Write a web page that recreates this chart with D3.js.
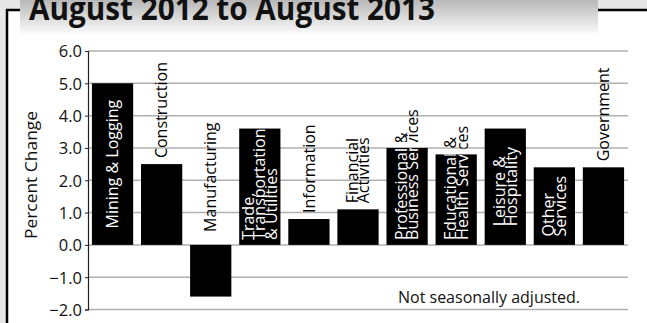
<!DOCTYPE html>
<html>
<head>
<meta charset="utf-8">
<script src="https://cdn.jsdelivr.net/npm/d3@7"></script>
<style>
  html, body { margin: 0; padding: 0; background: #e6e6e6; }
  svg { display: block; }
  text { font-family: "Open Sans", "DejaVu Sans", sans-serif; }
</style>
</head>
<body>
<svg id="chart" width="647" height="323"></svg>
<script>
// Over-the-year percent change in employment by industry
const categories = [
  "Mining & Logging", "Construction", "Manufacturing",
  "Trade, Transportation & Utilities", "Information", "Financial Activities",
  "Professional & Business Services", "Educational & Health Services",
  "Leisure & Hospitality", "Other Services", "Government"
];
const values = [5.0, 2.5, -1.6, 3.6, 0.8, 1.1, 3.0, 2.8, 3.6, 2.4, 2.4];
const labelLines = [
  ["Mining & Logging"], ["Construction"], ["Manufacturing"],
  ["Trade,", "Transportation", "& Utilities"], ["Information"], ["Financial", "Activities"],
  ["Professional &", "Business Services"], ["Educational &", "Health Services"],
  ["Leisure &", "Hospitality"], ["Other", "Services"], ["Government"]
];
// where each industry name sits: inside the bar (white) or above it (black)
const labelPlacement = [
  "inside", "above", "above", "inside", "above", "above",
  "inside", "inside", "inside", "inside", "above"
];
const yTicks = [-2, -1, 0, 1, 2, 3, 4, 5, 6];
const titleText = "August 2012 to August 2013";
const yAxisTitle = "Percent Change";
const noteText = "Not seasonally adjusted.";

const W = 647, H = 323;
const svg = d3.select("#chart");

// page frame
svg.append("rect").attr("width", W).attr("height", H).attr("fill", "#e6e6e6");
svg.append("rect").attr("x", 8).attr("y", 10).attr("width", W - 8).attr("height", H - 10).attr("fill", "#fff");
const frame = svg.append("g").attr("stroke", "#000").attr("stroke-width", 2.5);
frame.append("line").attr("x1", 7).attr("x2", 7).attr("y1", 9).attr("y2", H);
frame.append("line").attr("x1", 6).attr("x2", 21).attr("y1", 10).attr("y2", 10);
frame.append("line").attr("x1", 597).attr("x2", W).attr("y1", 10).attr("y2", 10);

// title banner
const defs = svg.append("defs");
const grad = defs.append("linearGradient").attr("id", "bannerGrad")
  .attr("x1", 0).attr("y1", 0).attr("x2", 0).attr("y2", 1);
grad.append("stop").attr("offset", "0%").attr("stop-color", "#b8b8b8");
grad.append("stop").attr("offset", "100%").attr("stop-color", "#fbfbfb");
svg.append("rect").attr("x", 20).attr("y", 0).attr("width", 578).attr("height", 34)
  .attr("fill", "url(#bannerGrad)");
svg.append("text").attr("x", 29).attr("y", 20)
  .attr("font-size", 33).attr("font-weight", 700).attr("fill", "#111")
  .attr("textLength", 406).attr("lengthAdjust", "spacingAndGlyphs")
  .text(titleText);

// scales
const x = d3.scaleBand().domain(categories).range([88, 628]).paddingInner(0.16).paddingOuter(0.08);
const y = d3.scaleLinear().domain([-2, 6]).range([309.5, 51]);

// gridlines
svg.append("g").selectAll("line").data(yTicks).join("line")
  .attr("x1", 88).attr("x2", 628)
  .attr("y1", d => y(d)).attr("y2", d => y(d))
  .attr("stroke", "#b0b0b0").attr("stroke-width", 1.5);

// y axis
const yAxis = d3.axisLeft(y).tickValues(yTicks).tickFormat(d3.format(".1f")).tickSize(3).tickPadding(3);
const ya = svg.append("g").attr("transform", "translate(88,0)").call(yAxis);
ya.select(".domain").attr("stroke", "#222").attr("stroke-width", 1.2);
ya.selectAll(".tick line").attr("stroke", "#222");
ya.selectAll(".tick text").attr("font-size", 16.5).attr("fill", "#111")
  .attr("font-family", "'Open Sans', sans-serif").attr("dy", "0.36em");

svg.append("text")
  .attr("transform", `translate(37,175) rotate(-90)`)
  .attr("text-anchor", "middle").attr("font-size", 16.5).attr("fill", "#111")
  .attr("textLength", 128).attr("lengthAdjust", "spacingAndGlyphs")
  .text(yAxisTitle);

// bars
const barTop = (v) => y(Math.max(0, v));
const barH = (v) => Math.abs(y(v) - y(0));
svg.append("g").selectAll("rect").data(categories).join("rect")
  .attr("x", d => x(d))
  .attr("y", (d, i) => barTop(values[i]))
  .attr("width", x.bandwidth())
  .attr("height", (d, i) => barH(values[i]))
  .attr("fill", "#000");

// industry names, rotated to read bottom-up
const fs = 16, lh = 11.5;
const labels = svg.append("g");

// longest line of a label, measured off-screen
const measurer = svg.append("text").attr("font-size", fs).attr("visibility", "hidden");
function labelLength(i) {
  return d3.max(labelLines[i], ln => { measurer.text(ln); return measurer.node().getComputedTextLength(); });
}

function labelStart(i) {
  const v = values[i];
  const zero = y(0);
  if (labelPlacement[i] !== "inside") return v < 0 ? zero - 13 : y(v) - 6;
  // centre the name in the bar, but never let it run below the baseline
  const len = labelLength(i);
  const centred = (barTop(v) + zero) / 2 + len / 2;
  return Math.min(centred, zero - 5);
}

function drawLabel(i, color, clipId) {
  const lines = labelLines[i];
  const n = lines.length;
  const cx = x(categories[i]) + x.bandwidth() / 2;
  const t = labels.append("g").attr("clip-path", clipId ? `url(#${clipId})` : null)
    .append("text")
    .attr("transform", `translate(${cx},${labelStart(i)}) rotate(-90)`)
    .attr("font-size", fs).attr("fill", color);
  lines.forEach((ln, k) => {
    t.append("tspan").attr("x", 0)
      .attr("y", (k - (n - 1) / 2) * lh)
      .attr("dy", "0.35em")
      .text(ln);
  });
}

categories.forEach((c, i) => {
  const v = values[i];
  if (labelPlacement[i] === "inside") {
    const inId = "clipIn" + i, outId = "clipOut" + i;
    defs.append("clipPath").attr("id", inId).append("rect")
      .attr("x", x(c)).attr("y", barTop(v)).attr("width", x.bandwidth()).attr("height", barH(v));
    defs.append("clipPath").attr("id", outId).append("rect")
      .attr("x", x(c) - 10).attr("y", 0).attr("width", x.bandwidth() + 20).attr("height", Math.max(0, barTop(v) - 6));
    drawLabel(i, "#fff", inId);
    drawLabel(i, "#000", outId);
  } else {
    drawLabel(i, "#000", null);
  }
});
measurer.remove();

// footnote
svg.append("text").attr("x", 398).attr("y", 303)
  .attr("font-size", 16).attr("fill", "#111")
  .attr("textLength", 182).attr("lengthAdjust", "spacingAndGlyphs")
  .text(noteText);
</script>
</body>
</html>
